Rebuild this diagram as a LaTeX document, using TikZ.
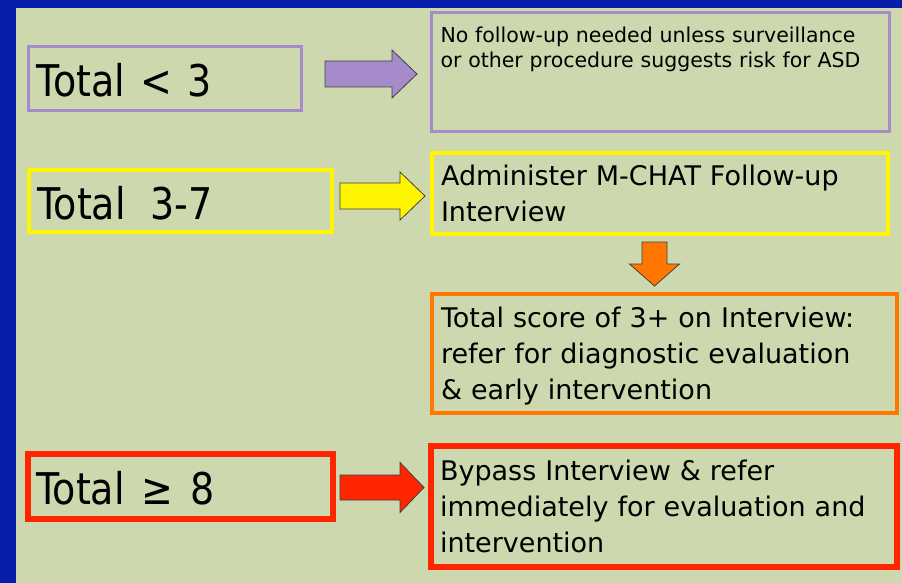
\documentclass[tikz,border=0pt]{standalone}
\usepackage{fontspec}
\setmainfont{DejaVu Sans}
\usetikzlibrary{calc}
\definecolor{bgblue}{RGB}{6,30,170}
\definecolor{bgpanel}{RGB}{206,216,174}
\definecolor{cpurple}{RGB}{166,139,203}
\definecolor{cyellow}{RGB}{255,245,0}
\definecolor{corange}{RGB}{255,119,0}
\definecolor{cred}{RGB}{255,37,0}
% horizontal block arrow: fill, start, tip, shaft half, head half, head length
\newcommand\harrow[6]{%
  \draw[arrowline, fill=#1] ($(#2)+(0,-#4)$) -- ($(#3)+(-#6,-#4)$) -- ($(#3)+(-#6,-#5)$) -- (#3)
    -- ($(#3)+(-#6,#5)$) -- ($(#3)+(-#6,#4)$) -- ($(#2)+(0,#4)$) -- cycle;}
% vertical (downward) block arrow
\newcommand\varrow[6]{%
  \draw[arrowline, fill=#1] ($(#2)+(-#4,0)$) -- ($(#3)+(-#4,-#6)$) -- ($(#3)+(-#5,-#6)$) -- (#3)
    -- ($(#3)+(#5,-#6)$) -- ($(#3)+(#4,-#6)$) -- ($(#2)+(#4,0)$) -- cycle;}
\newcommand\tallbig[1]{\scalebox{1}[1.15]{#1}}
\begin{document}
\begin{tikzpicture}[x=1pt,y=-1pt,
  box/.style={draw, rectangle, anchor=north west, outer sep=0pt, align=left, inner ysep=0pt},
  big/.style={font=\fontsize{38}{44}\selectfont, inner xsep=8pt, text height=37pt},
  mid/.style={font=\fontsize{27}{36}\selectfont, inner xsep=9pt},
  small/.style={font=\fontsize{20.5}{25}\selectfont, inner xsep=9pt},
  arrowline/.style={draw=black!75, line width=0.8pt, line join=miter}]
\useasboundingbox (0,0) rectangle (902,583);
\fill[bgblue] (0,0) rectangle (902,583);
\fill[bgpanel] (16,8) rectangle (902,583);

% left boxes
\node[box, big, draw=cpurple, line width=3pt, minimum width=273pt, minimum height=64pt, text width=257pt] (pl) at (28.5,46.5) {\tallbig{Total\hspace{0.4em}<\hspace{0.4em}3}};
\node[box, big, draw=cyellow, line width=4pt, minimum width=303pt, minimum height=62pt, text width=287pt] (yl) at (29,170) {\tallbig{Total\hspace{0.65em}3-7}};
\node[box, big, draw=cred, line width=6pt, minimum width=305pt, minimum height=65pt, text width=289pt] (rl) at (28,454) {\tallbig{Total\hspace{0.45em}≥\hspace{0.45em}8}};

% right boxes
\node[box, small, draw=cpurple, line width=3pt, minimum width=458pt, minimum height=119pt, text width=440pt] (pr) at (431.5,12.5)
  {No follow-up needed unless surveillance\\or other procedure suggests risk for ASD\\[24pt]\mbox{}};
\node[box, mid, draw=cyellow, line width=4pt, minimum width=456pt, minimum height=81pt, text width=438pt] (yr) at (432,153)
  {Administer M-CHAT Follow-up\\Interview};
\node[box, mid, draw=corange, line width=4pt, minimum width=465pt, minimum height=119pt, text width=447pt] (or) at (432,294)
  {\rule{0pt}{26pt}Total score of 3+ on Interview:\\refer for diagnostic evaluation\\\& early intervention};
\node[box, mid, draw=cred, line width=6pt, minimum width=466pt, minimum height=121pt, text width=448pt] (rr) at (431,446)
  {Bypass Interview \& refer\\immediately for evaluation and\\intervention};

% block arrows
\coordinate (s1) at ($(pl.east)+(23.5,-4.5)$);
\coordinate (t1) at ($(pr.west |- s1)+(-14.5,0)$);
\harrow{cpurple}{s1}{t1}{13}{24}{25}
\coordinate (s2) at ($(yl.east)+(8,-5)$);
\coordinate (t2) at ($(yr.west |- s2)+(-7,0)$);
\harrow{cyellow}{s2}{t2}{13}{24}{25}
\coordinate (s3) at ($(rl.east)+(7,1)$);
\coordinate (t3) at ($(rr.west |- s3)+(-7,0)$);
\harrow{cred}{s3}{t3}{12.5}{25}{24}
\coordinate (s4) at ($(yr.south)+(-5.5,8)$);
\coordinate (t4) at ($(or.north -| s4)+(0,-8)$);
\varrow{corange}{s4}{t4}{12.5}{25}{22}
\end{tikzpicture}
\end{document}
